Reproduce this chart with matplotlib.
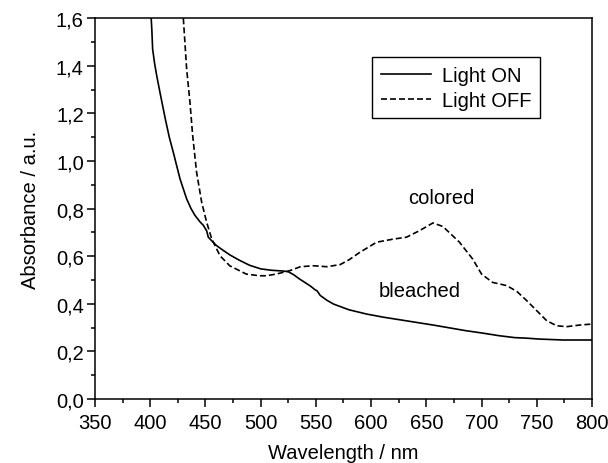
import matplotlib
matplotlib.use('Agg')
import matplotlib.pyplot as plt
from matplotlib.ticker import MultipleLocator

# Light ON (solid) spectrum
on_x = [400.9, 401.5, 402.2, 404, 405.9, 409, 414, 417.3, 420.9, 427, 433, 437,
        440.5, 445, 448.1, 451.1, 452.6, 455.7, 460, 466, 472, 480, 490, 500,
        510, 520, 525, 530, 535, 540, 545, 549, 551, 554, 560, 566, 580, 596,
        611, 626, 641, 656, 671, 686, 701, 716, 730, 740, 752, 774, 800]
on_y = [1.6, 1.55, 1.471, 1.41, 1.359, 1.285, 1.17, 1.1, 1.037, 0.925, 0.841, 0.80,
        0.772, 0.745, 0.73, 0.707, 0.68, 0.665, 0.645, 0.625, 0.606, 0.585,
        0.562, 0.547, 0.541, 0.538, 0.535, 0.522, 0.505, 0.49, 0.475, 0.46,
        0.455, 0.435, 0.415, 0.399, 0.375, 0.357, 0.344, 0.333, 0.322, 0.311,
        0.299, 0.287, 0.277, 0.266, 0.258, 0.256, 0.252, 0.248, 0.248]

# Light OFF (dashed) spectrum
off_x = [430, 433, 436, 438.4, 442, 446.6, 451.1, 455.7, 463.2, 472, 481, 487, 499,
         505, 514, 526, 536, 542, 548, 560, 572, 580, 590, 605, 620, 632, 644, 656,
         665, 680, 692, 700, 710, 717, 723, 732, 741, 750, 759, 768, 777, 789, 800]
off_y = [1.6, 1.387, 1.247, 1.11, 0.953, 0.827, 0.743, 0.673, 0.602, 0.56, 0.539,
         0.525, 0.518, 0.518, 0.525, 0.539, 0.556, 0.558, 0.56, 0.556, 0.565, 0.585,
         0.617, 0.659, 0.672, 0.68, 0.708, 0.74, 0.725, 0.659, 0.588, 0.525, 0.49,
         0.483, 0.476, 0.452, 0.413, 0.371, 0.329, 0.308, 0.304, 0.311, 0.315]

x_ticks = [350, 400, 450, 500, 550, 600, 650, 700, 750, 800]
y_ticks = [0.0, 0.2, 0.4, 0.6, 0.8, 1.0, 1.2, 1.4, 1.6]
y_labels = ['0,0', '0,2', '0,4', '0,6', '0,8', '1,0', '1,2', '1,4', '1,6']

plt.rcParams['font.family'] = ['Liberation Sans', 'DejaVu Sans']
plt.rcParams['font.size'] = 14.5

fig = plt.figure(figsize=(6.08, 4.64), dpi=100)
ax = fig.add_axes([0.1562, 0.1379, 0.8175, 0.8205])

ax.plot(on_x, on_y, color='black', lw=1.2, label='Light ON')
ax.plot(off_x, off_y, color='black', lw=1.2, dashes=(3.6, 1.8), label='Light OFF')

ax.text(663.7, 0.847, 'colored', ha='center', va='center')
ax.text(644.3, 0.456, 'bleached', ha='center', va='center')

ax.set_xlim(350, 800)
ax.set_ylim(0, 1.6)
ax.set_xticks(x_ticks)
ax.set_yticks(y_ticks)
ax.set_yticklabels(y_labels)
ax.xaxis.set_minor_locator(MultipleLocator(25))
ax.yaxis.set_minor_locator(MultipleLocator(0.1))
ax.tick_params(which='major', direction='out', length=5.5, width=1.1,
               top=False, right=False, labelsize=14.5, pad=2.5)
ax.tick_params(axis='x', which='major', pad=4.5)
ax.tick_params(which='minor', direction='out', length=3, width=1.1,
               top=False, right=False)
for s in ax.spines.values():
    s.set_linewidth(1.1)

ax.set_xlabel('Wavelength / nm', labelpad=8)
ax.set_ylabel('Absorbance / a.u.', labelpad=11.5)

leg = ax.legend(loc='upper right', bbox_to_anchor=(0.896, 0.8975),
                borderaxespad=0, fancybox=False, edgecolor='black',
                framealpha=1, handlelength=2.5, handletextpad=0.55,
                borderpad=0.42, labelspacing=0.3)
leg.get_frame().set_linewidth(1.0)

fig.savefig('out.png', dpi=100)
